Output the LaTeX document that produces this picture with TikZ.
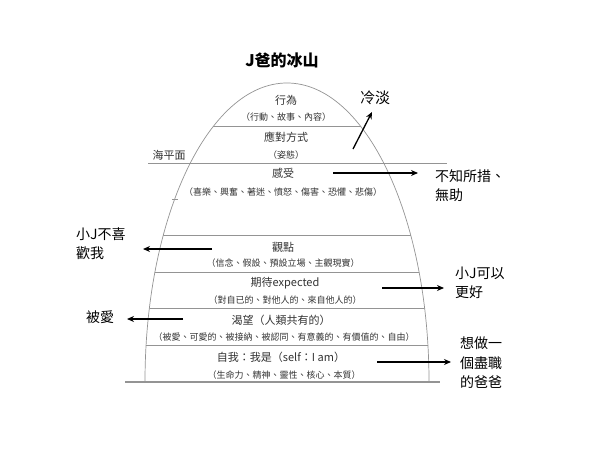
\documentclass[tikz,border=0pt]{standalone}
\usepackage{fontspec}
\newfontfamily\cjk{Noto Sans CJK TC}
\usetikzlibrary{arrows.meta}
\begin{document}
\begin{tikzpicture}[x=1pt,y=1pt,
  gline/.style={draw=black!42, line width=0.7pt},
  lab/.style={font=\cjk\fontsize{11}{13}\selectfont, text=black!80, inner sep=0pt},
  sub/.style={font=\cjk\fontsize{9}{11}\selectfont, text=black!80, inner sep=0pt},
  side/.style={font=\cjk\fontsize{14}{19}\selectfont, align=left, anchor=west, inner sep=0pt},
  arr/.style={-{Stealth[length=7pt,width=6pt]}, line width=1.3pt}]
\useasboundingbox (0,0) rectangle (600,-450);
\fill[white] (0,0) rectangle (600,-450);
% iceberg outline and layers
\begin{scope}
  \clip (145,-382) arc[start angle=180,end angle=0,x radius=142,y radius=299] -- cycle;
  \foreach \y in {126,235,272,308,345} \draw[gline] (100,-\y) -- (500,-\y);
\end{scope}
\draw[gline] (145,-382) arc[start angle=180,end angle=0,x radius=142,y radius=299];
\draw[gline] (148,-163) -- (447,-163);
\draw[gline, line width=1.3pt] (125,-382) -- (440,-382);
\draw[gline] (172,-199) -- (178,-199);
% title
\node[font=\cjk\bfseries\fontsize{16}{18}\selectfont] (title) at (282,-60) {J爸的冰山};
% layer labels
\node[lab] (l1) at (286,-100) {行為};
\node[sub] (s1) at (286,-117) {（行動、故事、內容）};
\node[lab] (l2) at (286,-137) {應對方式};
\node[sub] (s2) at (286,-155) {（姿態）};
\node[lab] (sea) at (169,-155) {海平面};
\node[lab] (l3) at (283,-173) {感受};
\node[sub] (s3) at (283,-192) {（喜樂、興奮、著迷、憤怒、傷害、恐懼、悲傷）};
\node[lab] (l4) at (283,-247) {觀點};
\node[sub] (s4) at (283,-263) {（信念、假設、預設立場、主觀現實）};
\node[lab] (l5) at (285,-283) {期待expected};
\node[sub] (s5) at (285,-300) {（對自已的、對他人的、來自他人的）};
\node[lab] (l6) at (281,-320) {渴望（人類共有的）};
\node[sub] (s6) at (284,-337) {（被愛、可愛的、被接納、被認同、有意義的、有價值的、自由）};
\node[lab] (l7) at (281,-357) {自我：我是（self：I am）};
\node[sub] (s7) at (284,-375) {（生命力、精神、靈性、核心、本質）};
% side labels
\node[font=\cjk\fontsize{15}{18}\selectfont, inner sep=0pt] (cold) at (375,-98) {冷淡};
\node[side] (lost) at (435,-186) {不知所措、\\無助};
\node[side] (dislike) at (76,-244) {小J不喜\\歡我};
\node[side] (better) at (455,-283) {小J可以\\更好};
\node[font=\cjk\fontsize{14}{18}\selectfont, inner sep=0pt] (love) at (100,-317) {被愛};
\node[side, font=\cjk\fontsize{14}{19.5}\selectfont] (dad) at (460,-363) {想做一\\個盡職\\的爸爸};
% arrow ends
\coordinate (c1a) at (353,-149); \coordinate (c1b) at (372,-112);
\coordinate (c2a) at (333,-173); \coordinate (c2b) at (418,-173);
\coordinate (c3a) at (212,-249); \coordinate (c3b) at (143,-249);
\coordinate (c4a) at (382,-288); \coordinate (c4b) at (444,-288);
\coordinate (c5a) at (183,-319); \coordinate (c5b) at (127,-319);
\coordinate (c6a) at (377,-362); \coordinate (c6b) at (451,-362);
\draw[arr] (c1a) -- (c1b);
\draw[arr] (c2a) -- (c2b);
\draw[arr] (c3a) -- (c3b);
\draw[arr] (c4a) -- (c4b);
\draw[arr] (c5a) -- (c5b);
\draw[arr] (c6a) -- (c6b);
\end{tikzpicture}
\end{document}
